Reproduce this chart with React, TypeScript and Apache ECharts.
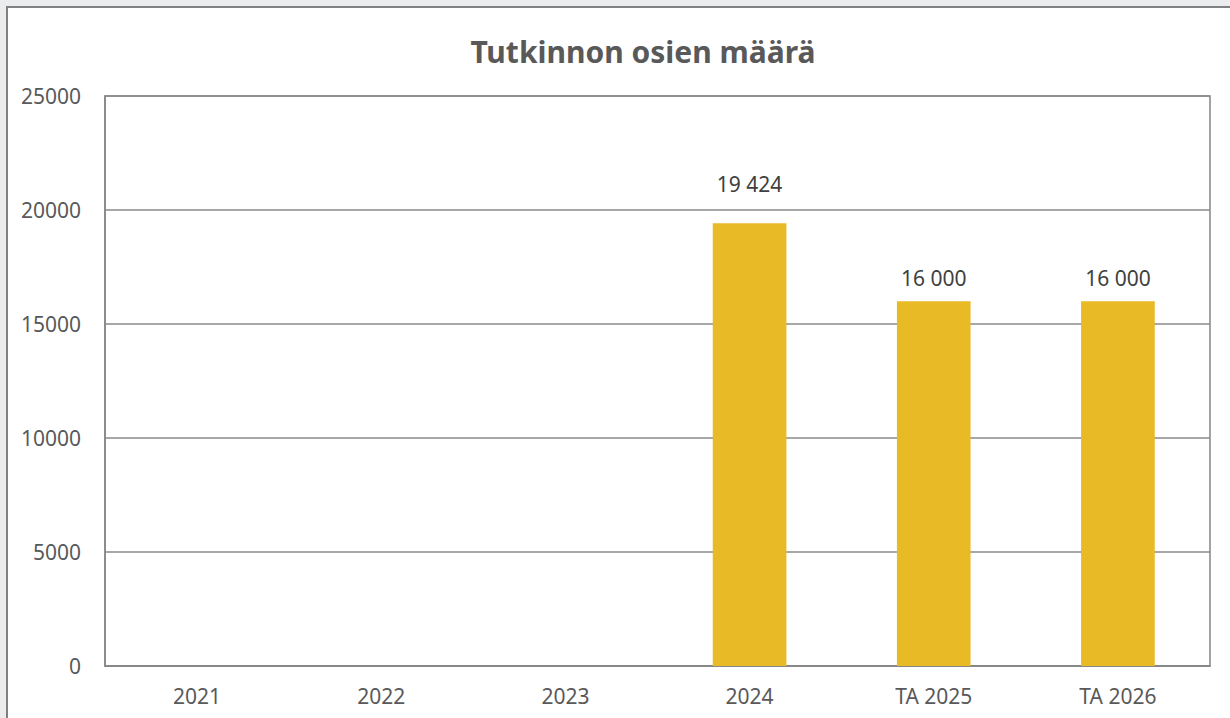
import React, { useEffect, useRef } from "react";
import * as echarts from "echarts";

const categories = ["2021", "2022", "2023", "2024", "TA 2025", "TA 2026"];
const values: (number | null)[] = [null, null, null, 19424, 16000, 16000];
const labelDistances = [5, 5, 5, 29, 13, 13];
const yTicks = [0, 5000, 10000, 15000, 20000, 25000];

const fmt = (v: number) => String(v).replace(/\B(?=(\d{3})+(?!\d))/g, " ");

export default function App() {
  const ref = useRef<HTMLDivElement>(null);
  useEffect(() => {
    document.body.style.margin = "0";
    document.body.style.background = "#ebecee";
    const chart = echarts.init(ref.current!, null, { renderer: "svg" });
    chart.setOption({
      animation: false,
      title: {
        text: "Tutkinnon osien määrä",
        left: 638,
        textAlign: "center",
        top: 31,
        textStyle: { fontFamily: "Noto Sans", fontSize: 30, fontWeight: "bold", color: "#595959" },
      },
      grid: {
        left: 105,
        top: 96,
        right: 20,
        bottom: 52,
        show: true,
        borderColor: "#858585",
        borderWidth: 1.5,
        containLabel: false,
      },
      xAxis: {
        type: "category",
        data: categories,
        axisTick: { show: false },
        axisLine: { lineStyle: { color: "#858585", width: 1.5 } },
        axisLabel: { color: "#595959", fontFamily: "Noto Sans", fontSize: 21, margin: 19 },
      },
      yAxis: {
        type: "value",
        min: yTicks[0],
        max: yTicks[yTicks.length - 1],
        interval: 5000,
        axisLine: { show: true, lineStyle: { color: "#858585", width: 1.5 } },
        axisTick: { show: false },
        splitLine: { lineStyle: { color: "#8a8a8a", width: 1.5 } },
        axisLabel: {
          color: "#595959",
          fontFamily: "Noto Sans",
          fontSize: 21,
          margin: 24,
          formatter: (v: number) => String(v),
        },
      },
      series: [
        {
          type: "bar",
          barWidth: "40%",
          data: values.map((v, i) => ({
            value: v,
            label: { distance: labelDistances[i] },
          })),
          itemStyle: { color: "#E8BA26" },
          label: {
            show: true,
            position: "top",
            color: "#404040",
            fontFamily: "Noto Sans",
            fontSize: 21,
            formatter: (p: any) => (p.value == null ? "" : fmt(p.value)),
          },
        },
      ],
    });
    return () => chart.dispose();
  }, []);
  return (
    <div style={{ position: "relative", width: 1230, height: 718, overflow: "hidden", background: "#ebecee" }}>
      <div
        style={{
          position: "absolute",
          left: 6,
          top: 6,
          width: 1300,
          height: 800,
          background: "#ffffff",
          border: "2px solid #808080",
        }}
      />
      <div ref={ref} style={{ position: "absolute", left: 0, top: 0, width: 1230, height: 718 }} />
    </div>
  );
}
